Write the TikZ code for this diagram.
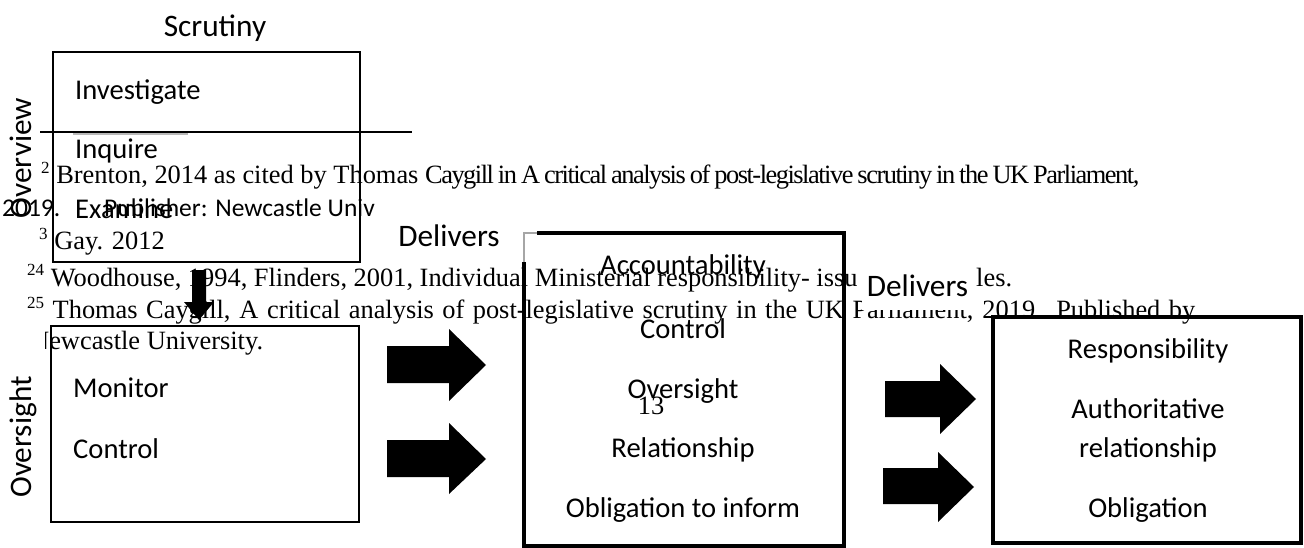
\documentclass[tikz,border=0pt]{standalone}
\usepackage{fontspec}
\setmainfont{Liberation Serif}
\newfontfamily\calfont{Carlito}
\usetikzlibrary{calc}
\newcommand\fnum[1]{\raisebox{10pt}{\fontsize{17}{17}\selectfont #1}}
\newcommand\tightrun[1]{{\addfontfeature{LetterSpace=-5.6}\spaceskip=4pt plus 1pt minus 1pt\relax #1}}
\tikzset{
  head/.style={font=\calfont\fontsize{31.3}{36}\selectfont, inner sep=0pt},
  item/.style={font=\calfont\fontsize{28.6}{34}\selectfont, inner sep=0pt},
  foot/.style={font=\fontsize{26.4}{30}\selectfont, inner sep=0pt, anchor=base west},
  boxa/.style={draw, line width=2.5pt, inner sep=0pt, outer sep=0pt},
  boxb/.style={inner sep=0pt, outer sep=0pt},
  blk/.style={fill=black},
}
\begin{document}
\begin{tikzpicture}[x=1pt,y=-1pt]
\useasboundingbox (0,0) rectangle (1304,548);
\clip (0,0) rectangle (1304,548);
\fill[white] (0,0) rectangle (1304,548);
% footnote layer
\draw[line width=1.3pt] (40,132) coordinate (r1) -- (412,132) coordinate (r2);
\draw[gray!55, line width=2pt] (73,134.5) coordinate (g1) -- (188,134.5) coordinate (g2);
\node[foot] (f1) at (41,184) {\fnum{2} Brenton, 2014 as cited by Thomas \tightrun{Caygill in A critical analysis of post-legislative scrutiny in the UK Parliament,}};
\node[anchor=base west, font=\calfont\fontsize{25.5}{30}\selectfont, inner sep=0pt] (f2a) at (2,217) {2019.};
\node[anchor=base east, font=\calfont\fontsize{25.5}{30}\selectfont, inner sep=0pt] (f2b) at (375,217) {Publisher: Newcastle Univ};
\node[foot] (f3) at (39,250) {\fnum{3} Gay. 2012};
\node[foot] (f4) at (27,286) {\fnum{24} Woodhouse, 1994, Flinders, 2001, Individual Ministerial responsibility- issu};
\node[foot] (f4b) at (976,286) {les.};
\node[foot] (f5) at (27,318) {\makebox[1168pt][s]{\fnum{25} Thomas Caygill, A critical analysis of post-legislative scrutiny in the UK Parliament, 2019. Published by}};
\node[foot] (f6) at (30,349) {Newcastle University.};
\node[foot, anchor=base] (p13) at (651,414) {13};
% labels
\node[head] (scr) at (215,28) {Scrutiny};
\node[head, rotate=90] (ovw) at (21,158) {Overview};
\node[head, rotate=90, fill=white, minimum width=214, minimum height=44] (ovs) at (23,437) {Oversight};
\node[head, anchor=base] (del1) at (449,247) {Delivers};
\node[head, fill=white, minimum width=111, minimum height=48] (del2) at (917.5,286) {Delivers};
% boxes
\node[boxa, minimum width=307, minimum height=210] (box1) at (206.5,157) {};
\node[boxa, minimum width=308, minimum height=196] (box3) at (205,424) {};
\node[boxb, minimum width=320, minimum height=313] (box2) at (684,389.5) {};
\draw[line width=3.2pt] ($(box2.north west)+(13,0)$) -- (box2.north east) -- (box2.south east) -- (box2.south west) -- ($(box2.north west)+(0,29)$);
\draw[gray!70, line width=2pt] ($(box2.north west)+(0,29)$) -- (box2.north west) -- ($(box2.north west)+(13,0)$);
\node[boxa, line width=3.2pt, minimum width=308, minimum height=226] (box4) at (1147,430) {};
% box 1 items
\node[item, anchor=base west] (i1) at (75,100) {Investigate};
\node[item, anchor=base west] (i2) at (75,159) {Inquire};
\node[item, anchor=base west] (i3) at (75,219) {Examine};
% box 3 items
\node[item, anchor=base west] (m1) at (73,397) {Monitor};
\node[item, anchor=base west] (m2) at (73,458) {Control};
% box 2 items
\node[item, anchor=base] (a1) at (683,274) {Accountability};
\node[item, anchor=base] (a2) at (683,338) {Control};
\node[item, anchor=base] (a3) at (683,398) {Oversight};
\node[item, anchor=base] (a4) at (683,457) {Relationship};
\node[item, anchor=base] (a5) at (683,517) {Obligation to inform};
% box 4 items
\node[item, anchor=base] (b1) at (1148,358) {Responsibility};
\node[item, anchor=base] (b2) at (1148,418) {Authoritative};
\node[item, anchor=base] (b3) at (1148,457) {relationship};
\node[item, anchor=base] (b4) at (1148,517) {Obligation};
% block arrows
\fill[blk] (192,270) -- (206,270) -- (206,302) -- (214,302) -- (199,320) -- (184,302) -- (192,302) -- cycle;
\fill[blk] (387,346) -- (449,346) -- (449,329) -- (486,365) -- (449,401) -- (449,383) -- (387,383) -- cycle;
\fill[blk] (387,440) -- (449,440) -- (449,423) -- (486,459) -- (449,494) -- (449,477) -- (387,477) -- cycle;
\fill[blk] (885,381) -- (940,381) -- (940,364) -- (976,399) -- (940,434) -- (940,417) -- (885,417) -- cycle;
\fill[blk] (883,468) -- (938,468) -- (938,452) -- (974,487) -- (938,522) -- (938,504) -- (883,504) -- cycle;
\end{tikzpicture}
\end{document}
